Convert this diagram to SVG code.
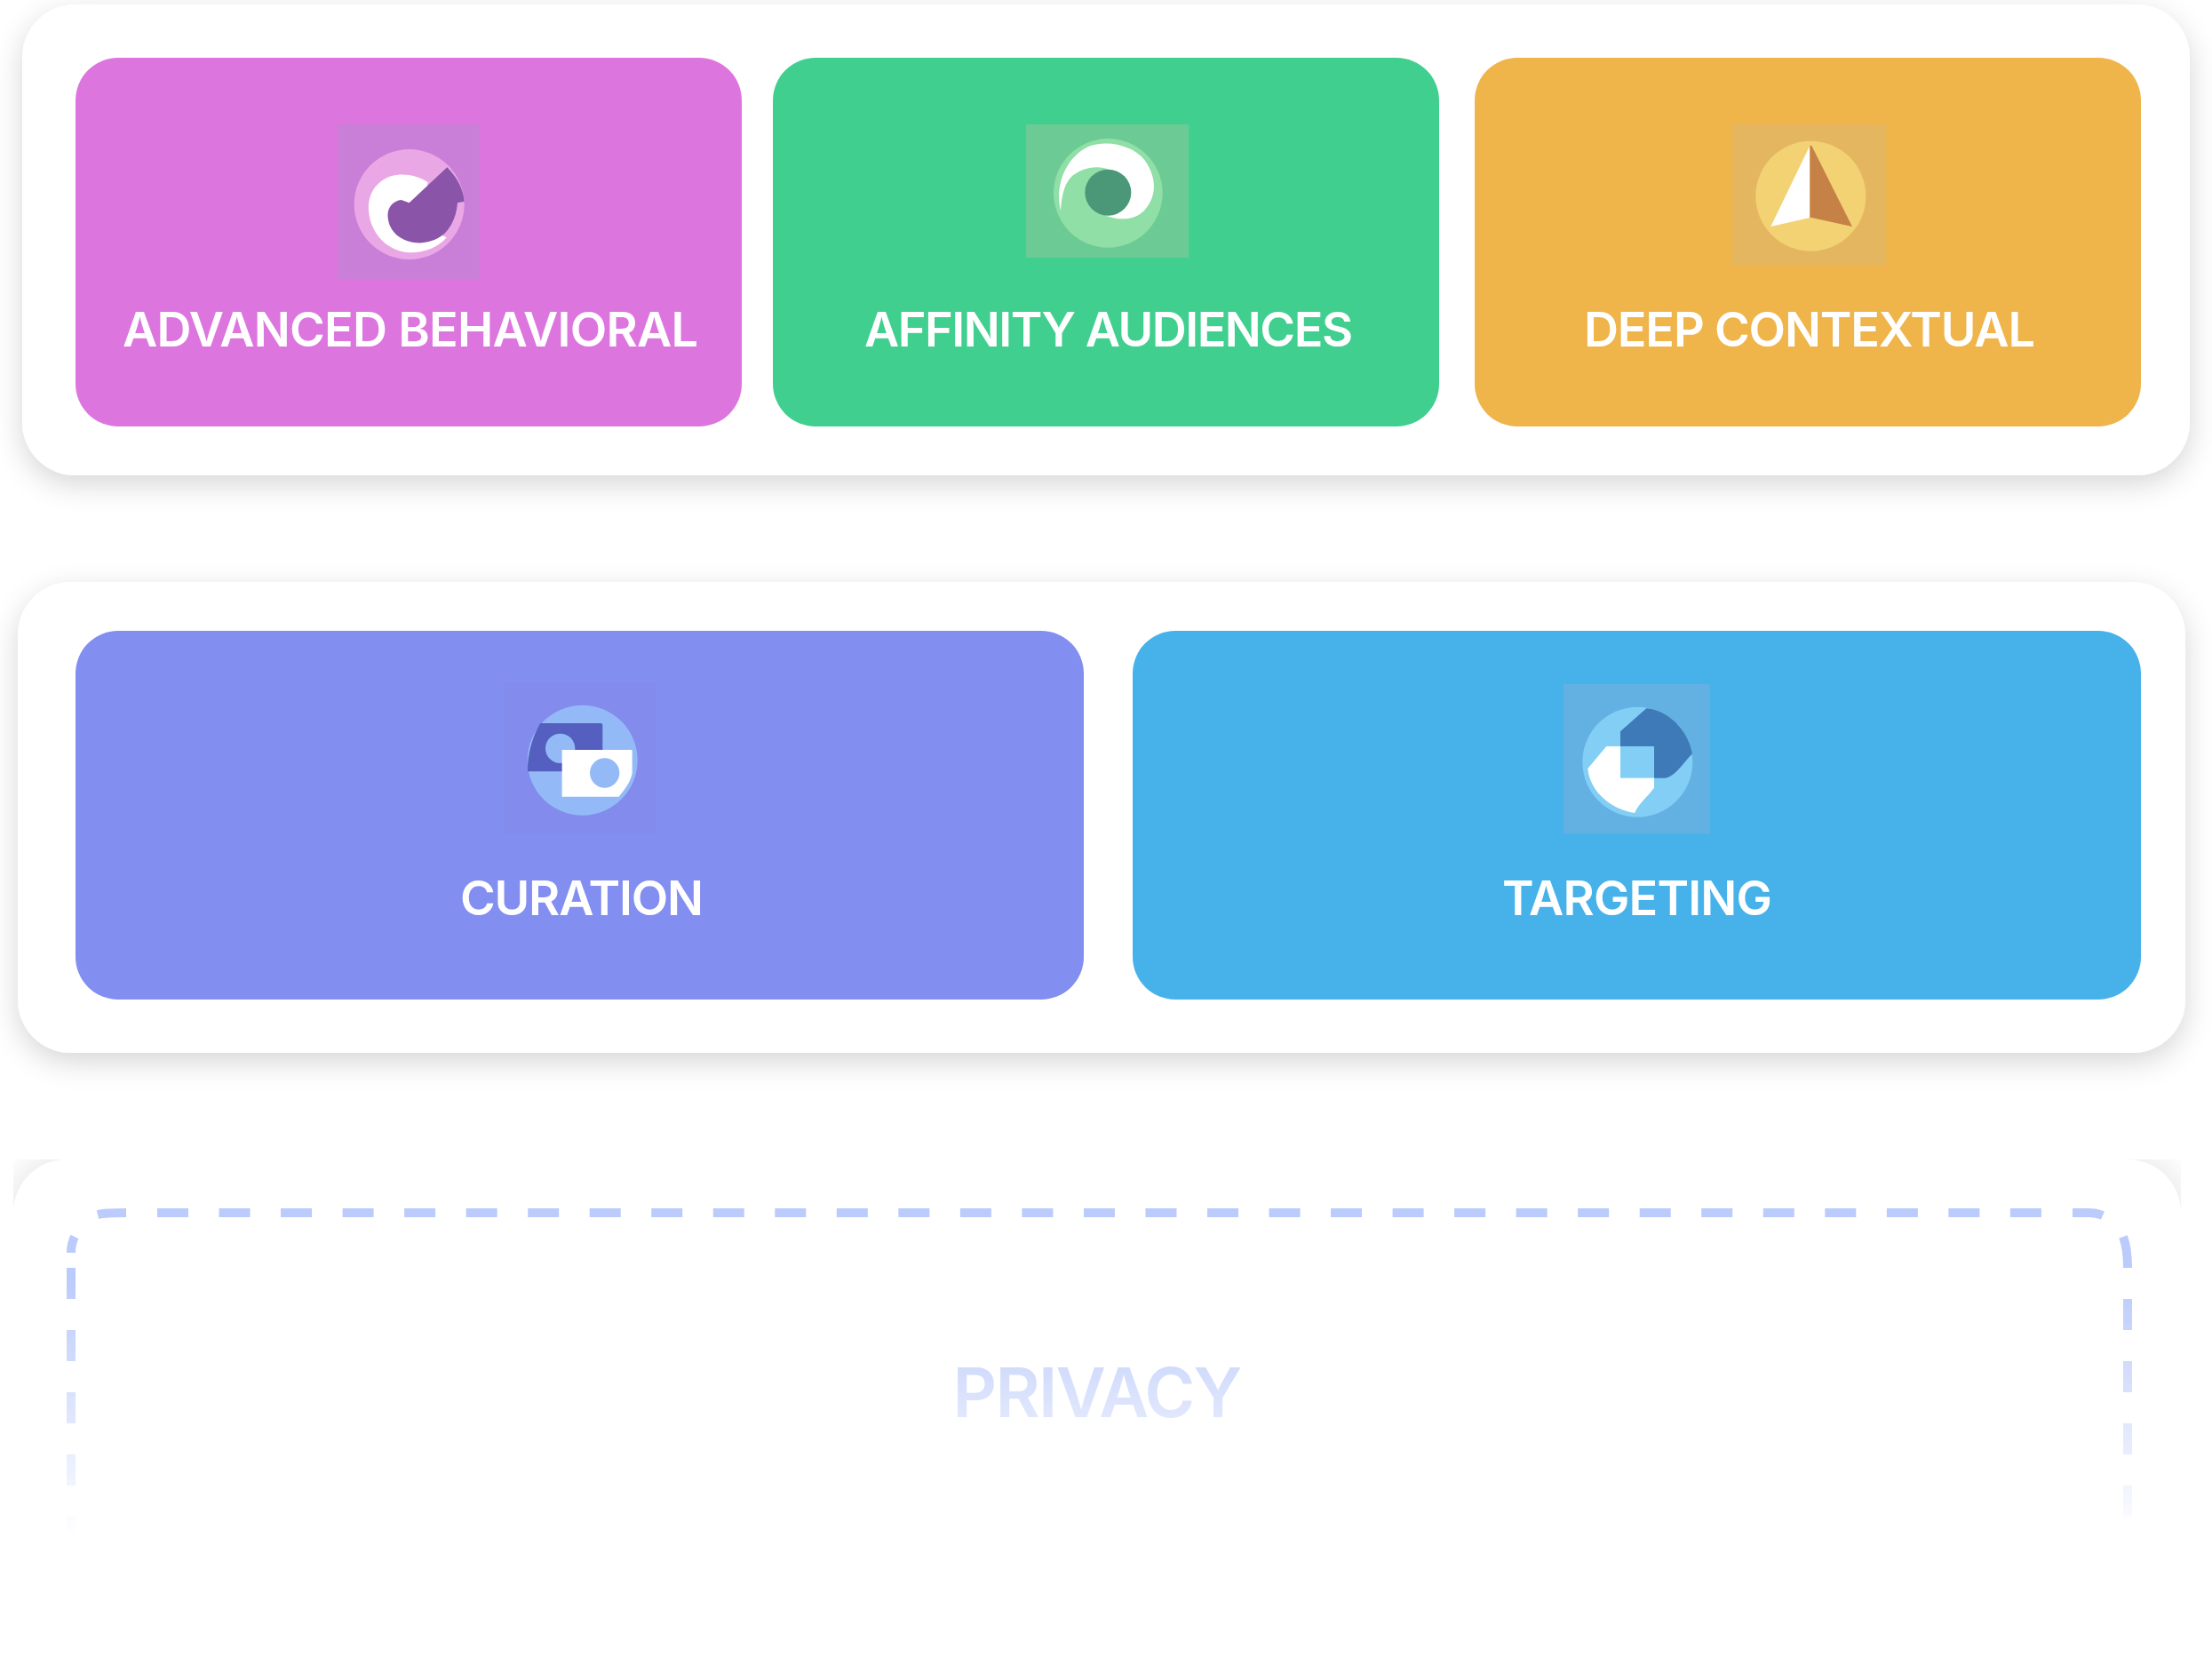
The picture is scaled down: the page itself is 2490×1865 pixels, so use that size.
<svg xmlns="http://www.w3.org/2000/svg" width="2490" height="1865" viewBox="0 0 2490 1865">
<style>
.lbl{font-family:Inter,"Liberation Sans",sans-serif;font-weight:600;font-size:54px;fill:#fff;text-anchor:middle}
.panel{fill:#fff;filter:url(#sh)}
.dash{fill:none;stroke:#BBCBFB;stroke-width:10}
</style>
<defs>
<filter id="sh" x="-5%" y="-15%" width="110%" height="130%"><feDropShadow dx="0" dy="10" stdDeviation="16" flood-color="#000" flood-opacity="0.16"/></filter>
<linearGradient id="fade" gradientUnits="userSpaceOnUse" x1="0" y1="1440" x2="0" y2="1730"><stop offset="0" stop-color="#fff"/><stop offset="1" stop-color="#000"/></linearGradient>
<linearGradient id="ptext" gradientUnits="userSpaceOnUse" x1="0" y1="1539" x2="0" y2="1595"><stop offset="0" stop-color="#D1DCFC"/><stop offset="1" stop-color="#E1E7FC"/></linearGradient>
<mask id="m" maskUnits="userSpaceOnUse" x="0" y="1300" width="2490" height="565"><rect x="0" y="1300" width="2490" height="565" fill="url(#fade)"/></mask>
<radialGradient id="cl" gradientUnits="userSpaceOnUse" cx="75" cy="1365" r="85"><stop offset="0.7" stop-color="#f1f1f1"/><stop offset="1" stop-color="#fefefe"/></radialGradient>
<radialGradient id="cr" gradientUnits="userSpaceOnUse" cx="2395" cy="1365" r="85"><stop offset="0.7" stop-color="#f1f1f1"/><stop offset="1" stop-color="#fefefe"/></radialGradient>
</defs>
<rect width="2490" height="1865" fill="#fff"/>
<g id="panel-top"><rect class="panel" x="25" y="5" width="2440" height="530" rx="60"/></g>
<g id="panel-middle"><rect class="panel" x="20" y="655" width="2440" height="530" rx="60"/></g>
<g id="panel-privacy">
<path d="M15 1305H75A60 60 0 0 0 15 1365Z" fill="url(#cl)"/>
<path d="M2455 1305H2395A60 60 0 0 1 2455 1365Z" fill="url(#cr)"/>
<g mask="url(#m)">
<path class="dash" d="M110 1367Q118 1365 142 1365M2333 1365H2350Q2360 1365 2367 1368M84 1392Q80 1400 80 1410M80 1427V1462M80 1497V1532M80 1567V1602M80 1637V1672M80 1707V1742M2390 1392Q2395 1405 2395 1427M2395 1462V1497M2395 1532V1567M2395 1602V1637M2395 1672V1707M2395 1742V1760"/>
<path class="dash" d="M177 1365H2298" stroke-dasharray="35 34.53"/>
</g>
<text x="1235.5" y="1595" font-family="Inter,'Liberation Sans',sans-serif" font-weight="600" font-size="77" fill="url(#ptext)" text-anchor="middle" textLength="326">PRIVACY</text>
</g>
<g id="advanced-behavioral">
<rect x="85" y="65" width="750" height="415" rx="48" fill="#DC76DE"/>
<g transform="translate(340 120) scale(.3333)">
<rect x="120" y="60" width="480" height="523" fill="#C97FD8"/>
<circle cx="362" cy="330" r="186" fill="#E9A8E5"/>
<path d="M425 255C390 232 340 222 300 235C245 255 222 300 225 350C230 430 290 490 365 493C415 493 460 475 488 442L400 400Z" fill="#fff"/>
<path d="M490 205C520 235 545 275 548 320L525 325C522 370 505 405 480 430C450 455 415 462 385 460C335 455 295 425 290 375C286 340 308 318 335 315L362 325Z" fill="#8A54A8"/>
</g>
<text class="lbl" x="462" y="390" textLength="648">ADVANCED BEHAVIORAL</text>
</g>
<g id="affinity-audiences">
<rect x="870" y="65" width="750" height="415" rx="48" fill="#40CF8E"/>
<g transform="translate(1130 120) scale(.3333)">
<rect x="75" y="60" width="550" height="450" fill="#6CCB94"/>
<circle cx="352" cy="292" r="184" fill="#8FDFA6"/>
<path d="M192 352C172 270 205 175 285 135C340 112 430 125 475 180C515 235 520 300 475 350C440 385 390 385 345 368L400 280L360 215C320 195 260 205 225 240C200 270 195 310 192 352Z" fill="#fff"/>
<circle cx="352" cy="290" r="78" fill="#4A9878"/>
</g>
<text class="lbl" x="1248" y="390" textLength="550">AFFINITY AUDIENCES</text>
</g>
<g id="deep-contextual">
<rect x="1660" y="65" width="750" height="415" rx="48" fill="#EFB44A"/>
<g transform="translate(1920 120) scale(.3333)">
<rect x="90" y="60" width="520" height="475" fill="#E5B660"/>
<circle cx="355" cy="302" r="186" fill="#F3D274"/>
<path d="M352 132L220 405L352 375Z" fill="#fff"/>
<path d="M352 132H358L495 405L358 375H352Z" fill="#C68147"/>
</g>
<text class="lbl" x="2037" y="390" textLength="508">DEEP CONTEXTUAL</text>
</g>
<g id="curation">
<rect x="85" y="710" width="1135" height="415" rx="48" fill="#828EF0"/>
<g transform="translate(540 760) scale(.3333)">
<rect x="84" y="27" width="510" height="504" fill="#838BEC"/>
<circle cx="347" cy="287" r="186" fill="#93BAF7"/>
<path d="M205 162H408Q415 162 415 170V325H162C160 270 178 205 205 162Z" fill="#545FBF"/>
<circle cx="272" cy="247" r="50" fill="#93BAF7"/>
<path d="M278 252H515V330C510 360 490 385 470 410H278Z" fill="#fff"/>
<circle cx="422" cy="330" r="50" fill="#93BAF7"/>
</g>
<text class="lbl" x="655" y="1030" textLength="274">CURATION</text>
</g>
<g id="targeting">
<rect x="1275" y="710" width="1135" height="415" rx="48" fill="#47B2E9"/>
<g transform="translate(1730 760) scale(.3333)">
<rect x="90" y="30" width="495" height="505" fill="#63B0E3"/>
<circle cx="340" cy="293" r="186" fill="#82CEF5"/>
<path d="M370 112C440 118 510 180 525 265C495 295 470 340 435 347H282V190Z" fill="#3D7AB7"/>
<path d="M235 240H396V380C375 410 345 430 330 465C260 455 180 400 172 315Z" fill="#fff"/>
<rect x="282" y="240" width="114" height="107" fill="#82CEF5"/>
</g>
<text class="lbl" x="1843" y="1030" textLength="304">TARGETING</text>
</g>
</svg>
